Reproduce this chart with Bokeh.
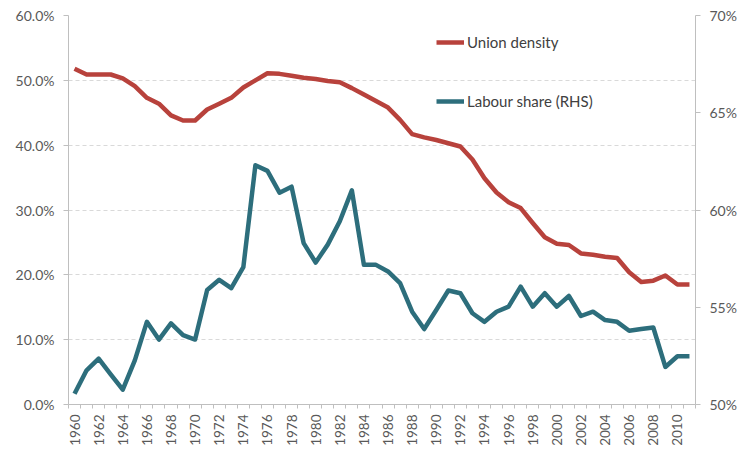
import math
from bokeh.plotting import figure
from bokeh.models import (Range1d, LinearAxis, FixedTicker, NumeralTickFormatter,
                          Legend, LegendItem, ColumnDataSource)
from bokeh.embed import file_html
from bokeh.resources import INLINE

years = list(range(1960, 2012))
union_density = [51.8, 50.9, 50.9, 50.9, 50.3, 49.1, 47.3, 46.4, 44.6, 43.8,
                 43.8, 45.5, 46.4, 47.3, 48.9, 50.0, 51.1, 51.0, 50.7, 50.4,
                 50.2, 49.9, 49.7, 48.8, 47.8, 46.8, 45.8, 43.9, 41.7, 41.2,
                 40.8, 40.3, 39.8, 37.8, 34.9, 32.7, 31.2, 30.3, 28.0, 25.8,
                 24.8, 24.6, 23.3, 23.1, 22.8, 22.6, 20.4, 18.9, 19.1, 19.9,
                 18.5, 18.5]
labour_share = [50.55, 51.76, 52.36, 51.55, 50.76, 52.27, 54.25, 53.34, 54.17, 53.57,
                53.34, 55.89, 56.41, 55.98, 57.06, 62.30, 62.01, 60.89, 61.20, 58.30,
                57.30, 58.22, 59.42, 61.01, 57.18, 57.18, 56.84, 56.24, 54.77, 53.88,
                54.86, 55.86, 55.72, 54.69, 54.25, 54.77, 55.03, 56.06, 55.03, 55.72,
                55.03, 55.58, 54.55, 54.77, 54.34, 54.25, 53.79, 53.88, 53.96, 51.93,
                52.48, 52.48]
left_ticks = [0.0, 0.1, 0.2, 0.3, 0.4, 0.5, 0.6]
right_ticks = [0.50, 0.55, 0.60, 0.65, 0.70]
year_labels = list(range(1960, 2011, 2))
series_names = ["Union density", "Labour share (RHS)"]

RED = "#B8423C"
TEAL = "#2D6E7C"
GRAY_AX = "#BFBFBF"
TXT = "#595959"
FONT = "Lato"

src = ColumnDataSource(dict(
    year=years,
    ud=[v / 100 for v in union_density],
    ls=[v / 100 for v in labour_share],
))

p = figure(frame_width=627, frame_height=389, output_backend="svg", toolbar_location=None,
           x_range=Range1d(1959.5, 2011.5), y_range=Range1d(0, 0.6),
           min_border_left=68, min_border_right=30, min_border_top=15,
           min_border_bottom=36)
p.extra_y_ranges = {"rhs": Range1d(0.5, 0.7)}
p.outline_line_color = None
p.background_fill_color = "white"
p.border_fill_color = "white"

r1 = p.line("year", "ud", source=src, line_color=RED, line_width=4.5,
            line_join="round")
r2 = p.line("year", "ls", source=src, line_color=TEAL, line_width=4.5,
            line_join="round", y_range_name="rhs")

# left axis
la = p.yaxis[0]
la.ticker = FixedTicker(ticks=left_ticks)
la.formatter = NumeralTickFormatter(format="0.0%")
la.minor_tick_line_color = None
la.major_tick_out = 5
la.major_tick_in = 0
la.axis_line_color = GRAY_AX
la.major_tick_line_color = GRAY_AX
la.major_label_text_font = FONT
la.major_label_text_font_size = "14px"
la.major_label_text_color = TXT
la.major_label_standoff = 9

# right axis
ra = LinearAxis(y_range_name="rhs", ticker=FixedTicker(ticks=right_ticks),
                formatter=NumeralTickFormatter(format="0%"))
ra.minor_tick_line_color = None
ra.major_tick_out = 5
ra.major_tick_in = 0
ra.axis_line_color = GRAY_AX
ra.major_tick_line_color = GRAY_AX
ra.major_label_text_font = FONT
ra.major_label_text_font_size = "14px"
ra.major_label_text_color = TXT
ra.major_label_standoff = 9
p.add_layout(ra, "right")

# bottom axis
xa = p.xaxis[0]
xa.ticker = FixedTicker(ticks=year_labels,
                        minor_ticks=[y - 0.5 for y in years] + [years[-1] + 0.5])
xa.major_tick_out = 0
xa.major_tick_in = 0
xa.minor_tick_out = 4
xa.minor_tick_in = 0
xa.minor_tick_line_color = GRAY_AX
xa.axis_line_color = GRAY_AX
xa.major_label_orientation = math.pi / 2
xa.major_label_text_font = FONT
xa.major_label_text_font_size = "13.5px"
xa.major_label_text_color = TXT
xa.major_label_standoff = 6

p.xgrid.grid_line_color = None
p.ygrid.grid_line_color = "#D9D9D9"
p.ygrid.grid_line_dash = "4 3"
p.ygrid.ticker = FixedTicker(ticks=left_ticks)

legend = Legend(items=[LegendItem(label=series_names[0], renderers=[r1]),
                       LegendItem(label=series_names[1], renderers=[r2])],
                location=(368, 293), orientation="vertical",
                spacing=39, padding=0, margin=0,
                glyph_width=28, glyph_height=20, label_height=20,
                label_standoff=3,
                label_text_font=FONT, label_text_font_size="15px",
                label_text_color="#404040",
                border_line_color=None, background_fill_alpha=0)
p.add_layout(legend)

open("out.html", "w").write(file_html(p, INLINE))
